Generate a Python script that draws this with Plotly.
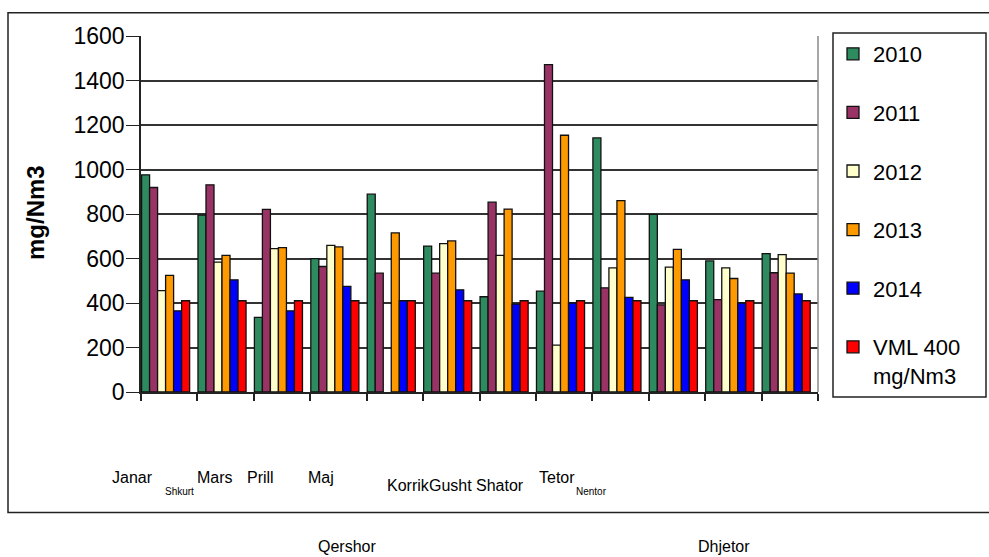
import plotly.graph_objects as go

months = ["Janar", "Shkurt", "Mars", "Prill", "Maj", "Qershor",
          "Korrik", "Gusht", "Shator", "Tetor", "Nentor", "Dhjetor"]
v2010 = [976, 795, 335, 599, 889, 656, 428, 453, 1142, 798, 589, 622]
v2011 = [919, 931, 821, 564, 534, 534, 853, 1471, 468, 392, 415, 536]
v2012 = [456, 584, 644, 659, None, 667, 614, 211, 558, 561, 558, 617]
v2013 = [524, 614, 649, 652, 715, 679, 822, 1154, 860, 641, 510, 534]
v2014 = [365, 504, 365, 475, 410, 459, 395, 400, 425, 504, 400, 441]
vml = [410, 410, 410, 410, 410, 410, 410, 410, 410, 410, 410, 410]

series_names = ["2010", "2011", "2012", "2013", "2014", "VML 400<br>mg/Nm3"]
series_vals = [v2010, v2011, v2012, v2013, v2014, vml]
colors = ["#2E8B60", "#993366", "#FFFFCC", "#FF9900", "#0000FF", "#FF0000"]

# plot-area geometry in pixels (for converting layout positions)
L, R, T, B = 141, 818, 36, 392
W, H = 989, 557
def px(x):
    return (x - L) / (R - L)
def py(y):
    return (B - y) / (B - T)

FONT = "Arial, Liberation Sans, sans-serif"

fig = go.Figure()
bw = 0.142
for i, (name, vals, col) in enumerate(zip(series_names, series_vals, colors)):
    fig.add_trace(go.Bar(
        x=months, y=vals, name=name,
        marker=dict(color=col, line=dict(color="#111111", width=1.3)),
        width=bw, offset=-0.49 + i * bw,
        legendgroup=str(i),
    ))

# category labels placed as in the reference
label_pos = {
    "Janar": (132, 477, 16), "Shkurt": (179, 491, 10), "Mars": (215, 477, 16),
    "Prill": (260, 477, 16), "Maj": (321, 477, 16), "Qershor": (347, None, 16),
    "Korrik": (408, 485, 16), "Gusht": (450, 485, 16), "Shator": (500, 485, 16),
    "Tetor": (557, 477, 16), "Nentor": (591, 491, 10), "Dhjetor": (724, None, 16),
}
annotations = []
for m in months:
    x, y, s = label_pos[m]
    if y is None:
        annotations.append(dict(x=px(x), y=py(556), xref="paper", yref="paper",
                                text=m, showarrow=False, xanchor="center", yanchor="bottom",
                                borderpad=0,
                                font=dict(family=FONT, size=s, color="black")))
    else:
        annotations.append(dict(x=px(x), y=py(y), xref="paper", yref="paper",
                                text=m, showarrow=False, xanchor="center", yanchor="middle",
                                font=dict(family=FONT, size=s, color="black")))
annotations.append(dict(x=px(35), y=py(213), xref="paper", yref="paper",
                        text="<b>mg/Nm3</b>", textangle=-90, showarrow=False,
                        xanchor="center", yanchor="middle",
                        font=dict(family=FONT, size=24, color="black")))

shapes = [
    # outer chart frame
    dict(type="rect", xref="paper", yref="paper",
         x0=px(8), x1=px(1000), y0=py(12.7), y1=py(512.5),
         line=dict(color="#222222", width=1.5), layer="below"),
    # legend box
    dict(type="rect", xref="paper", yref="paper",
         x0=px(833), x1=px(986), y0=py(33), y1=py(397),
         line=dict(color="#222222", width=1.5)),
]

fig.update_layout(
    width=W, height=H,
    margin=dict(l=L, r=W - R, t=T, b=H - B, pad=0),
    paper_bgcolor="white", plot_bgcolor="white",
    barmode="group", bargap=0.15,
    font=dict(family=FONT, color="black"),
    showlegend=True,
    legend=dict(x=px(833), y=py(33), xanchor="left", yanchor="top",
                font=dict(family=FONT, size=22, color="black"),
                bgcolor="rgba(0,0,0,0)", borderwidth=0, valign="top",
                tracegroupgap=27, itemwidth=30, maxheight=520),
    annotations=annotations,
    shapes=shapes,
    xaxis=dict(type="category", showticklabels=False, ticks="outside",
               tickson="boundaries", ticklen=7, tickcolor="#222222", tickwidth=1.5,
               showline=True, linecolor="#222222", linewidth=1.5, mirror=False,
               showgrid=False, range=[-0.5, 11.5]),
    yaxis=dict(range=[0, 1600], dtick=200, tickmode="linear", tick0=0,
               ticks="outside", ticklen=13, tickcolor="#222222", tickwidth=1.2,
               showline=True, linecolor="#222222", linewidth=1.5,
               showgrid=True, gridcolor="#333333", gridwidth=1.5,
               tickfont=dict(family=FONT, size=23, color="black"),
               ticklabelstandoff=-3, zeroline=False),
)
# right border of the plot area
fig.add_shape(type="line", xref="paper", yref="paper", x0=1, x1=1, y0=0, y1=1,
              line=dict(color="#888888", width=1.5))

fig.write_html("out.html")
